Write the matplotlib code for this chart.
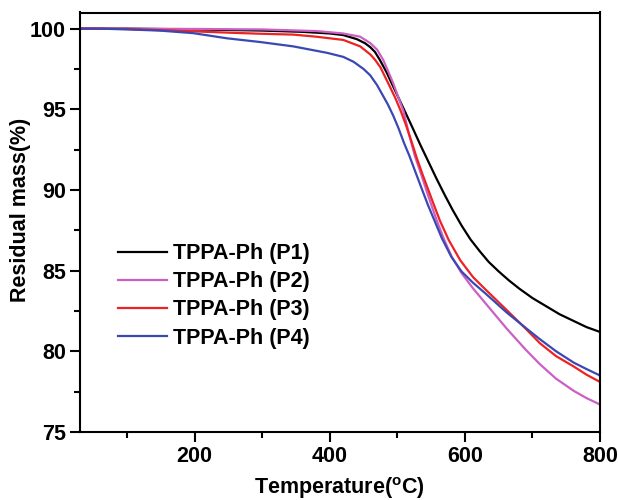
import numpy as np
import matplotlib
matplotlib.use("Agg")
import matplotlib.pyplot as plt
from matplotlib.ticker import MultipleLocator

# TGA curves (temperature in C, residual mass in %)
t_p1 = [30, 100, 200, 300, 360, 400, 420, 440, 452, 460, 467, 474, 484, 494, 503, 512,
        522, 534, 546, 558, 570, 582, 595, 608, 622, 635, 650, 665, 680, 700, 720,
        740, 760, 780, 800]
m_p1 = [100.0, 100.0, 99.95, 99.88, 99.8, 99.7, 99.6, 99.35, 99.1, 98.85, 98.55, 98.07,
        97.3, 96.4, 95.6, 94.8, 93.9, 92.8, 91.75, 90.7, 89.7, 88.75, 87.8, 86.95, 86.2,
        85.55, 84.95, 84.4, 83.9, 83.3, 82.8, 82.3, 81.9, 81.5, 81.2]

t_p2 = [30, 100, 200, 300, 380, 420, 445, 460, 470, 479, 487, 494, 501, 509, 517, 526,
        535, 546, 558, 568, 580, 595, 612, 630, 662, 690, 711, 735, 761, 780, 800]
m_p2 = [100.0, 100.0, 99.98, 99.95, 99.85, 99.7, 99.5, 99.1, 98.7, 98.07, 97.3, 96.6,
        95.8, 94.9, 93.5, 92.1, 91.0, 89.6, 88.15, 87.05, 85.9, 84.85, 83.9, 83.0, 81.4,
        80.1, 79.2, 78.3, 77.55, 77.1, 76.7]

t_p3 = [30, 100, 150, 200, 250, 300, 346, 380, 420, 445, 460, 467, 475, 482, 489, 497,
        505, 513, 521, 529, 537, 545, 553, 563, 576, 593, 612, 630, 662, 690, 711, 735,
        761, 780, 800]
m_p3 = [100.0, 99.98, 99.9, 99.83, 99.75, 99.68, 99.63, 99.5, 99.3, 98.9, 98.4, 98.07,
        97.6, 97.0, 96.4, 95.7, 94.9, 94.0, 93.0, 91.95, 91.0, 90.1, 89.2, 88.1, 86.9,
        85.65, 84.6, 83.85, 82.55, 81.4, 80.5, 79.7, 79.06, 78.55, 78.1]

t_p4 = [30, 60, 100, 148, 198, 248, 297, 346, 396, 420, 435, 450, 460, 470, 478, 486,
        494, 502, 510, 518, 526, 535, 545, 555, 566, 580, 595, 612, 630, 662, 690, 711,
        735, 761, 780, 800]
m_p4 = [100.0, 100.0, 99.95, 99.88, 99.72, 99.4, 99.17, 98.9, 98.5, 98.25, 97.95, 97.5,
        97.1, 96.5, 95.9, 95.3, 94.6, 93.8, 92.9, 92.1, 91.2, 90.2, 89.1, 88.1, 87.0,
        85.85, 84.95, 84.25, 83.6, 82.4, 81.45, 80.75, 80.0, 79.3, 78.9, 78.5]

labels = ["TPPA-Ph (P1)", "TPPA-Ph (P2)", "TPPA-Ph (P3)", "TPPA-Ph (P4)"]
colors = ["#000000", "#CC5FC4", "#EE2222", "#3A48B4"]

plt.rcParams["font.family"] = ["Liberation Sans", "DejaVu Sans"]
plt.rcParams["font.weight"] = "bold"
plt.rcParams["mathtext.fontset"] = "custom"
plt.rcParams["mathtext.rm"] = "Liberation Sans:bold"
plt.rcParams["mathtext.default"] = "rm"

fs = 15.5

fig = plt.figure(figsize=(6.18, 5.0), dpi=100)
ax = fig.add_axes([0.129, 0.136, 0.842, 0.839])

series = [(t_p1, m_p1), (t_p2, m_p2), (t_p3, m_p3), (t_p4, m_p4)]
for (t, m), lab, c in zip(series, labels, colors):
    ax.plot(t, m, color=c, lw=1.6, label=lab)

ax.set_xlim(30, 800)
ax.set_ylim(75, 101)
ax.xaxis.set_major_locator(MultipleLocator(200))
ax.xaxis.set_minor_locator(MultipleLocator(100))
ax.yaxis.set_major_locator(MultipleLocator(5))
ax.yaxis.set_minor_locator(MultipleLocator(2.5))

for s in ax.spines.values():
    s.set_linewidth(1.5)
ax.tick_params(which="major", direction="out", length=7, width=1.5, labelsize=fs, pad=3)
ax.tick_params(which="minor", direction="out", length=4, width=1.5)
for lab in ax.get_xticklabels() + ax.get_yticklabels():
    lab.set_fontweight("bold")

ax.set_xlabel(r"Temperature($^o$C)", fontsize=fs, fontweight="bold", labelpad=6)
ax.set_ylabel("Residual mass(%)", fontsize=fs, fontweight="bold")
ax.yaxis.set_label_coords(-0.094, 0.529)

ax.legend(loc="upper left", bbox_to_anchor=(0.073, 0.45), frameon=False,
          prop={"size": fs, "weight": "bold"}, handlelength=2.28,
          handletextpad=0.28, labelspacing=0.33, borderpad=0, borderaxespad=0)

fig.savefig("out.png", dpi=100)
